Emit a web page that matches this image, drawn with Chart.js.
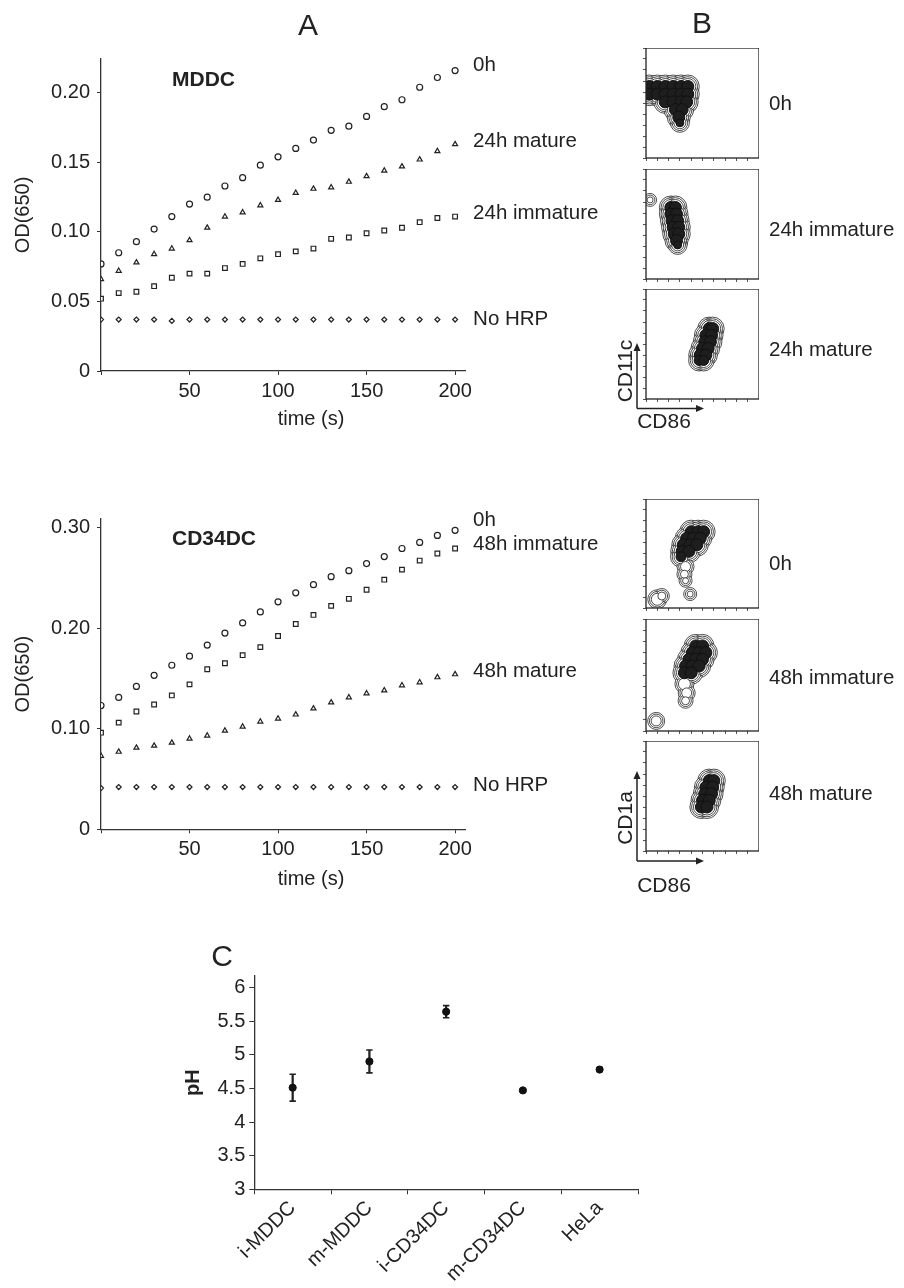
<!DOCTYPE html>
<html>
<head>
<meta charset="utf-8">
<script src="https://cdn.jsdelivr.net/npm/chart.js@4.4.1/dist/chart.umd.min.js"></script>
<style>
  body { margin: 0; background: #fff; width: 904px; height: 1288px; position: relative; overflow: hidden;
         font-family: 'Liberation Sans', Arial, sans-serif; color: #222; }
  .pane { position: absolute; }
  .txt { position: absolute; white-space: nowrap; line-height: 1; }
</style>
</head>
<body>
<div class="pane" style="left:0;top:40px;width:640px;height:370px"><canvas id="mddc"></canvas></div>
<div class="pane" style="left:0;top:500px;width:640px;height:370px"><canvas id="cd34"></canvas></div>
<div class="pane" style="left:180px;top:960px;width:480px;height:328px"><canvas id="ph"></canvas></div>

<div class="pane" style="left:643px;top:48px;width:116px;height:113px"><canvas id="f1"></canvas></div>
<div class="pane" style="left:643px;top:169px;width:116px;height:113px"><canvas id="f2"></canvas></div>
<div class="pane" style="left:643px;top:289px;width:116px;height:113px"><canvas id="f3"></canvas></div>
<div class="pane" style="left:643px;top:499px;width:116px;height:112px"><canvas id="f4"></canvas></div>
<div class="pane" style="left:643px;top:619px;width:116px;height:115px"><canvas id="f5"></canvas></div>
<div class="pane" style="left:643px;top:741px;width:116px;height:113px"><canvas id="f6"></canvas></div>

<svg style="position:absolute;left:0;top:0" width="904" height="1288">
  <g stroke="#222" stroke-width="1.5" fill="none">
    <line x1="637" y1="408.5" x2="637" y2="350"/>
    <line x1="637" y1="408.5" x2="698" y2="408.5"/>
    <line x1="637" y1="861" x2="637" y2="778"/>
    <line x1="637" y1="861" x2="698" y2="861"/>
  </g>
  <g fill="#222">
    <polygon points="637,343 633.5,351 640.5,351"/>
    <polygon points="704,408.5 696,405 696,412"/>
    <polygon points="637,771 633.5,779 640.5,779"/>
    <polygon points="704,861 696,857.5 696,864.5"/>
  </g>
</svg>

<script>
const FONT = "'Liberation Sans', Arial, sans-serif";
Chart.defaults.font.family = FONT;
Chart.defaults.font.size = 20;
Chart.defaults.color = '#222';
Chart.defaults.animation = false;

// ---- panel A: time course ----
const TIME = [0, 10, 20, 30, 40, 50, 60, 70, 80, 90, 100, 110, 120, 130, 140, 150, 160, 170, 180, 190, 200];

const MDDC_LABELS = ['0h', '24h mature', '24h immature', 'No HRP'];
const MDDC_0H = [0.077, 0.085, 0.093, 0.102, 0.111, 0.120, 0.125, 0.133, 0.139, 0.148, 0.154,
                 0.160, 0.166, 0.173, 0.176, 0.183, 0.190, 0.195, 0.204, 0.211, 0.216];
const MDDC_24H_MATURE = [0.066, 0.072, 0.078, 0.084, 0.088, 0.094, 0.103, 0.111, 0.114, 0.119, 0.123,
                         0.128, 0.131, 0.132, 0.136, 0.140, 0.144, 0.147, 0.152, 0.158, 0.163];
const MDDC_24H_IMMATURE = [0.052, 0.056, 0.057, 0.061, 0.067, 0.070, 0.070, 0.074, 0.077, 0.081, 0.084,
                           0.086, 0.088, 0.095, 0.096, 0.099, 0.101, 0.103, 0.107, 0.110, 0.111];
const MDDC_NO_HRP = [0.037, 0.037, 0.037, 0.037, 0.036, 0.037, 0.037, 0.037, 0.037, 0.037, 0.037,
                     0.037, 0.037, 0.037, 0.037, 0.037, 0.037, 0.037, 0.037, 0.037, 0.037];

const CD34_LABELS = ['0h', '48h immature', '48h mature', 'No HRP'];
const CD34_0H = [0.123, 0.131, 0.142, 0.153, 0.163, 0.172, 0.183, 0.195, 0.205, 0.216, 0.226,
                 0.235, 0.243, 0.251, 0.257, 0.264, 0.271, 0.279, 0.285, 0.292, 0.297];
const CD34_48H_IMMATURE = [0.096, 0.106, 0.117, 0.124, 0.133, 0.144, 0.159, 0.165, 0.173, 0.181, 0.192,
                           0.204, 0.213, 0.222, 0.229, 0.238, 0.248, 0.258, 0.267, 0.274, 0.279];
const CD34_48H_MATURE = [0.073, 0.077, 0.081, 0.083, 0.086, 0.090, 0.093, 0.098, 0.102, 0.107, 0.110,
                         0.114, 0.120, 0.126, 0.131, 0.135, 0.138, 0.143, 0.146, 0.151, 0.154];
const CD34_NO_HRP = [0.041, 0.042, 0.042, 0.042, 0.042, 0.042, 0.042, 0.042, 0.042, 0.042, 0.042,
                     0.042, 0.042, 0.042, 0.042, 0.042, 0.042, 0.042, 0.042, 0.042, 0.042];

const X_TICKS = [50, 100, 150, 200];

// ---- panel C: pH ----
const PH_GROUPS = ['i-MDDC', 'm-MDDC', 'i-CD34DC', 'm-CD34DC', 'HeLa'];
const PH_MEAN = [4.51, 4.90, 5.64, 4.47, 4.78];
const PH_ERR = [0.20, 0.17, 0.09, 0.02, 0.03];

// ---- panel B: flow contour blobs (x = CD86, y = CD11c / CD1a, 0-100; r in px) ----
const MDDC_0H_CORE = [
    {x: 3, y: 65, r: 6}, {x: 10, y: 65, r: 6}, {x: 17, y: 65, r: 6}, {x: 24, y: 65, r: 6}, {x: 31, y: 65, r: 6}, {x: 37, y: 65, r: 6},
    {x: 3, y: 58, r: 6}, {x: 10, y: 58, r: 6}, {x: 17, y: 58, r: 6}, {x: 24, y: 58, r: 6}, {x: 31, y: 58, r: 6}, {x: 37, y: 58, r: 6},
    {x: 17, y: 51, r: 6}, {x: 24, y: 51, r: 6}, {x: 31, y: 51, r: 6}, {x: 36, y: 51, r: 6},
    {x: 26, y: 44, r: 6}, {x: 32, y: 44, r: 6}, {x: 29, y: 37, r: 6}, {x: 30, y: 32, r: 4}];
const MDDC_0H_RINGS = [];
const MDDC_24I_CORE = [
    {x: 22, y: 65, r: 6}, {x: 26, y: 65, r: 6}, {x: 22, y: 59, r: 6}, {x: 27, y: 59, r: 6},
    {x: 23, y: 53, r: 6}, {x: 28, y: 53, r: 6}, {x: 24, y: 47, r: 6}, {x: 29, y: 47, r: 6},
    {x: 25, y: 41, r: 6}, {x: 29, y: 41, r: 6}, {x: 27, y: 35, r: 6}, {x: 28, y: 31, r: 4}];
const MDDC_24I_RINGS = [{x: 3.6, y: 71.9, r: 1}];
const MDDC_24M_CORE = [
    {x: 56, y: 64, r: 6}, {x: 59, y: 64, r: 6}, {x: 53, y: 58, r: 6}, {x: 58, y: 58, r: 6},
    {x: 52, y: 52, r: 6}, {x: 57, y: 52, r: 6}, {x: 50, y: 46, r: 6}, {x: 55, y: 46, r: 6},
    {x: 48, y: 40, r: 6}, {x: 53, y: 40, r: 6}, {x: 47, y: 35, r: 5}, {x: 51, y: 35, r: 5}];
const MDDC_24M_RINGS = [];
const CD34_0H_CORE = [
    {x: 40, y: 70, r: 6}, {x: 46, y: 70, r: 6}, {x: 51, y: 70, r: 6},
    {x: 36, y: 64, r: 6}, {x: 42, y: 64, r: 6}, {x: 48, y: 64, r: 6},
    {x: 33, y: 58, r: 6}, {x: 39, y: 58, r: 6}, {x: 45, y: 58, r: 6},
    {x: 32, y: 52, r: 6}, {x: 38, y: 52, r: 6}, {x: 31, y: 47, r: 5}];
const CD34_0H_RINGS = [{x: 35, y: 38, r: 3}, {x: 34, y: 31, r: 2}, {x: 35, y: 25, r: 1},
                       {x: 39.1, y: 12.8, r: 1}, {x: 10, y: 8, r: 4}, {x: 14, y: 11, r: 2}];
const CD34_48I_CORE = [
    {x: 44, y: 76, r: 6}, {x: 50, y: 76, r: 6},
    {x: 41, y: 70, r: 6}, {x: 47, y: 70, r: 6}, {x: 53, y: 70, r: 6},
    {x: 38, y: 64, r: 6}, {x: 44, y: 64, r: 6}, {x: 50, y: 64, r: 6},
    {x: 35, y: 58, r: 6}, {x: 41, y: 58, r: 6}, {x: 47, y: 58, r: 6},
    {x: 34, y: 52, r: 6}, {x: 40, y: 52, r: 6}];
const CD34_48I_RINGS = [{x: 34, y: 42, r: 4}, {x: 36, y: 34, r: 3}, {x: 35, y: 27, r: 2}, {x: 9, y: 9, r: 3}];
const CD34_48M_CORE = [
    {x: 56, y: 64, r: 6}, {x: 60, y: 64, r: 6}, {x: 53, y: 58, r: 6}, {x: 59, y: 58, r: 6},
    {x: 52, y: 52, r: 6}, {x: 58, y: 52, r: 6}, {x: 50, y: 46, r: 6}, {x: 56, y: 46, r: 6},
    {x: 49, y: 40, r: 6}, {x: 54, y: 40, r: 6}];
const CD34_48M_RINGS = [];

// text helpers
function addText(str, x, y, size, opts = {}) {
    const d = document.createElement('div');
    d.className = 'txt';
    d.textContent = str;
    d.style.left = x + 'px';
    d.style.top = y + 'px';
    d.style.fontSize = size + 'px';
    if (opts.bold) d.style.fontWeight = 'bold';
    const tx = opts.left ? '0' : '-50%';
    d.style.transform = `translate(${tx}, -50%)` + (opts.rotate ? ` rotate(${opts.rotate}deg)` : '');
    document.body.appendChild(d);
}

addText('A', 308, 25, 30);
addText('B', 702, 23, 30);
addText('C', 222, 956, 30);
addText('MDDC', 172, 78, 21, {bold: true, left: true});
addText('CD34DC', 172, 537, 21, {bold: true, left: true});
addText('time (s)', 311, 418, 20);
addText('time (s)', 311, 878, 20);
addText('0h', 769, 103, 20.5, {left: true});
addText('24h immature', 769, 229, 20.5, {left: true});
addText('24h mature', 769, 349, 20.5, {left: true});
addText('0h', 769, 563, 20.5, {left: true});
addText('48h immature', 769, 677, 20.5, {left: true});
addText('48h mature', 769, 793, 20.5, {left: true});
addText('CD11c', 624, 371, 21, {rotate: -90});
addText('CD1a', 624, 818, 21, {rotate: -90});
addText('CD86', 664, 420, 21);
addText('CD86', 664, 884, 21);

// series names drawn at the end of each series
const seriesLabels = {
    id: 'seriesLabels',
    afterDatasetsDraw(chart, args, opts) {
        const {ctx, scales: {x, y}} = chart;
        ctx.save();
        ctx.font = '20.5px ' + FONT;
        ctx.fillStyle = '#222';
        ctx.textAlign = 'left';
        ctx.textBaseline = 'middle';
        chart.data.datasets.forEach((ds, i) => {
            const last = ds.data[ds.data.length - 1];
            ctx.fillText(ds.label, x.getPixelForValue(last.x) + 18, y.getPixelForValue(last.y) + (opts.offsets[i] || 0));
        });
        ctx.restore();
    }
};

const STYLES = {
    '0h':           { pointStyle: 'circle',   pointRadius: 3 },
    '24h mature':   { pointStyle: 'triangle', pointRadius: 2.9 },
    '48h mature':   { pointStyle: 'triangle', pointRadius: 2.9 },
    '24h immature': { pointStyle: 'rect',     pointRadius: 3.3 },
    '48h immature': { pointStyle: 'rect',     pointRadius: 3.3 },
    'No HRP':       { pointStyle: 'rectRot',  pointRadius: 2.5 },
};

function renderTimeCourse(id, labels, series, yMax, yStep, plotTop, plotBottom, canvasTop, canvasH, offsets) {
    const ctx = document.getElementById(id);
    new Chart(ctx, {
        type: 'line',
        data: {
            datasets: labels.map((lab, i) => ({
                label: lab,
                data: TIME.map((t, k) => ({ x: t, y: series[i][k] })),
                showLine: false,
                borderColor: '#222',
                backgroundColor: '#fff',
                pointBorderWidth: 1.2,
                ...STYLES[lab],
            })),
        },
        options: {
            responsive: true,
            maintainAspectRatio: false,
            events: [],
            layout: { autoPadding: false, padding: { top: plotTop - canvasTop, right: 175, left: 0, bottom: 0 } },
            plugins: {
                legend: { display: false },
                tooltip: { enabled: false },
                seriesLabels: { offsets },
            },
            scales: {
                x: {
                    type: 'linear', min: 0, max: 205.6,
                    afterFit: s => { s.height = canvasH - (plotBottom - canvasTop); },
                    afterBuildTicks: s => { s.ticks = [0].concat(X_TICKS).map(v => ({ value: v })); },
                    ticks: { padding: 4, callback: v => (v === 0 ? '' : v) },
                    grid: { drawOnChartArea: false, tickLength: 4, color: '#333' },
                    border: { color: '#333', width: 1.3 },
                },
                y: {
                    min: 0, max: yMax,
                    afterFit: s => { s.width = 101; },
                    ticks: { stepSize: yStep, includeBounds: false, padding: 7,
                             callback: v => (v === 0 ? '0' : v.toFixed(2)) },
                    grid: { drawOnChartArea: false, tickLength: 4, color: '#333' },
                    border: { color: '#333', width: 1.3 },
                    title: { display: true, text: 'OD(650)', padding: { top: 11, bottom: 0 } },
                },
            },
        },
        plugins: [seriesLabels],
    });
}

renderTimeCourse('mddc', MDDC_LABELS, [MDDC_0H, MDDC_24H_MATURE, MDDC_24H_IMMATURE, MDDC_NO_HRP],
                 0.2243, 0.05, 55, 371, 40, 370, [-5, -3, -3, 0]);
renderTimeCourse('cd34', CD34_LABELS, [CD34_0H, CD34_48H_IMMATURE, CD34_48H_MATURE, CD34_NO_HRP],
                 0.3083, 0.1, 516.7, 829.3, 500, 370, [-10, -4, -3, -2]);

// ---- pH panel ----
new Chart(document.getElementById('ph'), {
    type: 'bar',
    data: {
        labels: PH_GROUPS,
        datasets: [
            { type: 'bar', data: PH_MEAN.map((m, i) => [m - PH_ERR[i], m + PH_ERR[i]]),
              backgroundColor: '#222', barThickness: 1.6, order: 3 },
            { type: 'line', data: PH_MEAN.map((m, i) => m + PH_ERR[i]), showLine: false,
              pointStyle: 'line', pointRadius: 3.2, pointBorderWidth: 1.6, borderColor: '#222', order: 2 },
            { type: 'line', data: PH_MEAN.map((m, i) => m - PH_ERR[i]), showLine: false,
              pointStyle: 'line', pointRadius: 3.2, pointBorderWidth: 1.6, borderColor: '#222', order: 2 },
            { type: 'line', data: PH_MEAN, showLine: false, pointStyle: 'circle', pointRadius: 3.6,
              backgroundColor: '#111', borderColor: '#111', order: 1 },
        ],
    },
    options: {
        responsive: true,
        maintainAspectRatio: false,
        events: [],
        layout: { autoPadding: false, padding: { top: 15, right: 22, left: 0, bottom: 0 } },
        plugins: { legend: { display: false }, tooltip: { enabled: false } },
        scales: {
            x: {
                offset: true,
                afterFit: s => { s.height = 98.7; },
                ticks: { minRotation: 45, maxRotation: 45, autoSkip: false, padding: 2 },
                grid: { offset: true, drawOnChartArea: false, tickLength: 5, color: '#333' },
                border: { color: '#333', width: 1.3 },
            },
            y: {
                min: 3, max: 6.17,
                afterFit: s => { s.width = 74.3; },
                ticks: { stepSize: 0.5, includeBounds: false, padding: 4,
                         callback: v => String(Math.round(v * 10) / 10) },
                grid: { drawOnChartArea: false, tickLength: 5, color: '#333' },
                border: { color: '#333', width: 1.3 },
                title: { display: true, text: 'pH', font: { weight: 'bold' }, padding: { top: 1, bottom: 0 } },
            },
        },
    },
});

// ---- flow plots ----
const frame = {
    id: 'frame',
    afterDraw(chart) {
        const {ctx, chartArea: a} = chart;
        ctx.save();
        ctx.strokeStyle = '#222';
        ctx.lineWidth = 1.3;
        ctx.strokeRect(a.left, a.top, a.width, a.height);
        ctx.restore();
    }
};

// contour levels drawn as offset rings around each blob, outermost first
const RING_STEPS = [5.5, 3.8, 2];

function renderFlow(id, core, rings) {
    const all = core.concat(rings);
    const axis = {
        min: 0, max: 100,
        ticks: { display: false, stepSize: 10 },
        grid: { drawOnChartArea: false, tickLength: 3, color: '#555' },
        border: { display: false },
    };
    const ringSets = RING_STEPS.map((d, i) => ({
        data: all.map(p => ({ x: p.x, y: p.y, r: p.r + d })),
        backgroundColor: '#fff', borderColor: '#222', borderWidth: 0.8, order: 10 - i,
    }));
    new Chart(document.getElementById(id), {
        type: 'bubble',
        data: {
            datasets: ringSets.concat([
                { data: core, backgroundColor: '#1e1e1e', borderColor: '#111', borderWidth: 1, order: 1 },
            ]),
        },
        options: {
            responsive: true,
            maintainAspectRatio: false,
            events: [],
            layout: { autoPadding: false, padding: 0 },
            plugins: { legend: { display: false }, tooltip: { enabled: false } },
            scales: { x: { ...axis }, y: { ...axis } },
        },
        plugins: [frame],
    });
}

renderFlow('f1', MDDC_0H_CORE, MDDC_0H_RINGS);
renderFlow('f2', MDDC_24I_CORE, MDDC_24I_RINGS);
renderFlow('f3', MDDC_24M_CORE, MDDC_24M_RINGS);
renderFlow('f4', CD34_0H_CORE, CD34_0H_RINGS);
renderFlow('f5', CD34_48I_CORE, CD34_48I_RINGS);
renderFlow('f6', CD34_48M_CORE, CD34_48M_RINGS);
</script>
</body>
</html>
